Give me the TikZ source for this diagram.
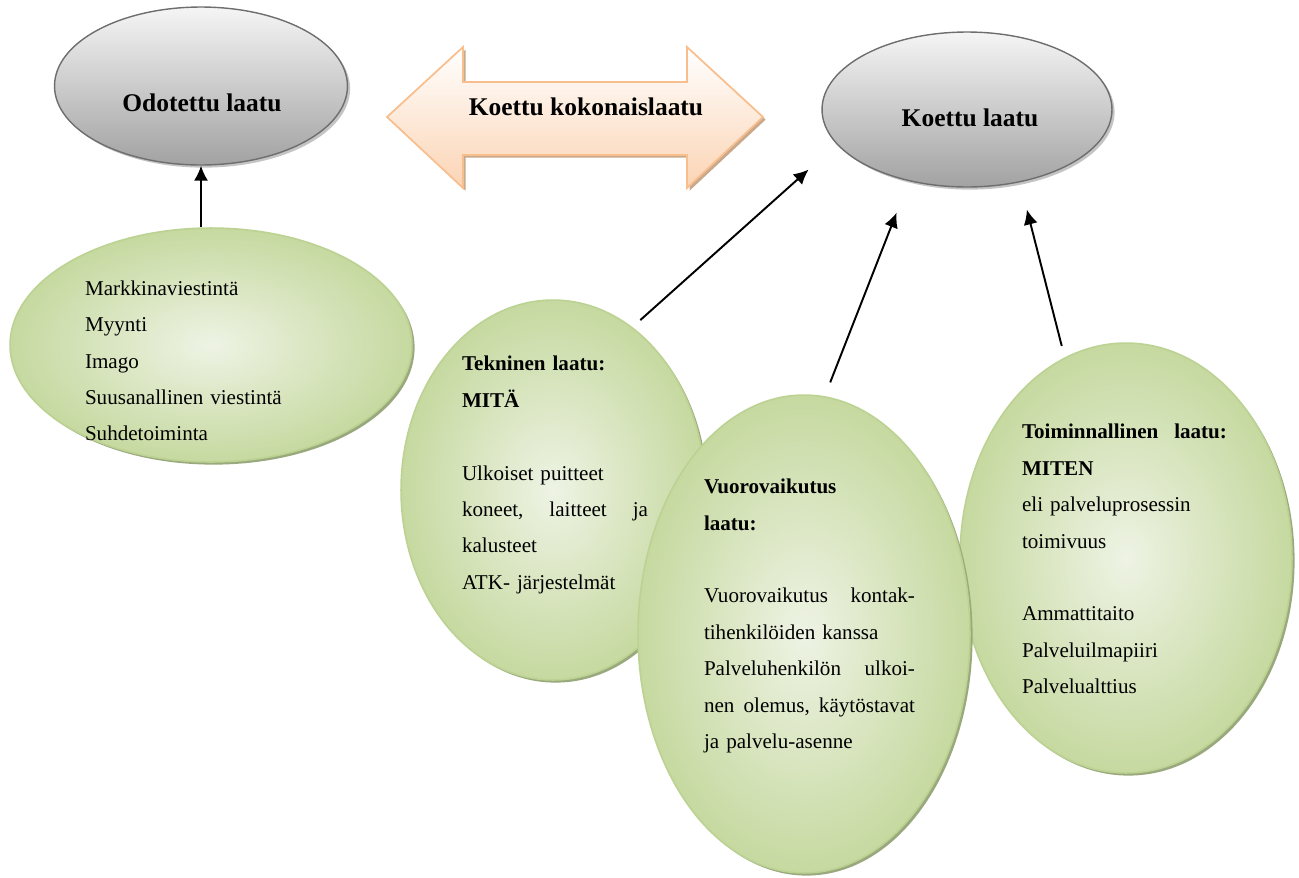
\documentclass[tikz,border=0pt]{standalone}
\usepackage{fontspec}
\setmainfont{Liberation Serif}
\usetikzlibrary{shapes.geometric,shadows,arrows.meta}
\definecolor{greyedge}{HTML}{6E6E6E}
\definecolor{greydark}{HTML}{A2A2A2}
\definecolor{greyshadow}{HTML}{C4C4C4}
\definecolor{greenedge}{HTML}{BCD293}
\definecolor{greenin}{HTML}{EEF3E4}
\definecolor{greenout}{HTML}{C6D9A0}
\definecolor{greenshadow}{HTML}{9AA97D}
\definecolor{peachedge}{HTML}{F8BE8E}
\definecolor{peachfill}{HTML}{FBD4B4}
\definecolor{peachshadow}{HTML}{C9A98C}
\tikzset{
  greyoval/.style={ellipse, draw=greyedge, line width=0.8pt, top color=white!96!black, bottom color=greydark,
    drop shadow={shadow xshift=1.5pt, shadow yshift=-1.5pt, fill=greyshadow, opacity=1}},
  greenoval/.style={ellipse, draw=greenedge, line width=0.9pt, inner color=greenin, outer color=greenout,
    drop shadow={shadow xshift=1.5pt, shadow yshift=-1.5pt, fill=greenshadow, opacity=1}},
  title/.style={font=\fontsize{14.5}{17}\selectfont\bfseries, inner sep=0pt},
  body/.style={font=\fontsize{12}{20.7}\selectfont, align=left, inner sep=0pt},
  feed/.style={line width=1.1pt, -{Latex[length=8.5pt,width=8pt]}}
}
\begin{document}
\begin{tikzpicture}[x=0.02cm,y=-0.02cm]
\useasboundingbox (0,0) rectangle (1299,877);

% top row
\node[greyoval, minimum width=5.86cm, minimum height=3.16cm] (odot) at (201,86) {};
\node[title] (odottxt) at (202,103) {Odotettu laatu};
\node[greyoval, minimum width=5.8cm, minimum height=3.1cm] (koettu) at (967,109.5) {};
\node[title] (koettutxt) at (970,118) {Koettu laatu};

\draw[top color=white, bottom color=peachfill, draw=peachedge, line width=1pt,
  drop shadow={shadow xshift=1.5pt, shadow yshift=-1.5pt, fill=peachshadow, opacity=1}]
  (387,117) -- (463,47) -- (463,82) -- (687,82) -- (687,47) -- (763,117)
  -- (687,188) -- (687,155) -- (463,155) -- (463,188) -- cycle;
\node[title] (koko) at (586,107) {Koettu kokonaislaatu};

% green ovals
\node[greenoval, minimum width=8.04cm, minimum height=4.68cm] (markk) at (211,345) {};
\node[body, text width=4.4cm] (markktxt) at (195,361)
  {Markkinaviestintä\\Myynti\\Imago\\Suusanallinen viestintä\\Suhdetoiminta};

\node[greenoval, minimum width=6.08cm, minimum height=7.6cm] (tekn) at (553,490) {};
\node[body, text width=3.72cm] (tekntxt) at (555,475)
  {\textbf{Tekninen laatu:}\\\textbf{MITÄ}\\[20.7pt]
   Ulkoiset puitteet\\koneet,\hfill laitteet\hfill ja\\kalusteet\\ATK- järjestelmät};

\node[greenoval, minimum width=6.64cm, minimum height=8.6cm] (toim) at (1126,558) {};
\node[body, text width=4.1cm] (toimtxt) at (1124.5,559)
  {\textbf{Toiminnallinen\hfill laatu:}\\\textbf{MITEN}\\eli palveluprosessin\\toimivuus\\[20.7pt]
   Ammattitaito\\Palveluilmapiiri\\Palvelualttius};

\node[greenoval, minimum width=6.64cm, minimum height=9.56cm] (vuoro) at (804,634) {};
\node[body, text width=4.22cm] (vuorotxt) at (809.5,616)
  {\textbf{Vuorovaikutus}\\\textbf{laatu:}\\[20.7pt]
   Vuorovaikutus\hfill kontak-\\tihenkilöiden kanssa\\Palveluhenkilön\hfill ulkoi-\\
   nen\hfill olemus,\hfill käytöstavat\\ja palvelu-asenne};

% arrows
\draw[feed] (markk.north -| odot.south) -- (odot.south);
\draw[feed, shorten <=6pt, shorten >=21.4pt] (tekn.64) -- (koettu.195);
\draw[feed, shorten <=8.4pt, shorten >=19.2pt] (vuoro.85) -- (koettu.231);
\draw[feed, shorten <=6.7pt, shorten >=16pt] (toim.107) -- (koettu.306);

\end{tikzpicture}
\end{document}
